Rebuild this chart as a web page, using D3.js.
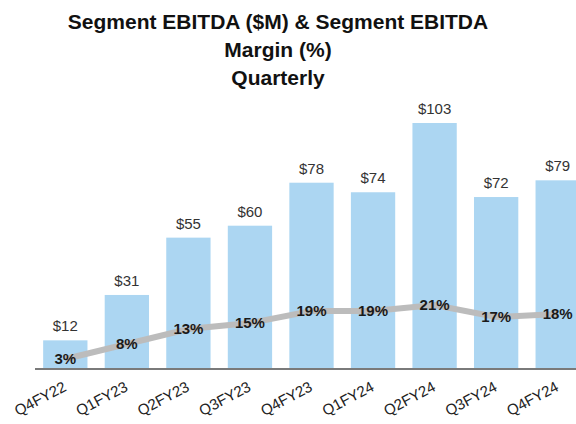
<!DOCTYPE html>
<html>
<head>
<meta charset="utf-8">
<script src="https://cdn.jsdelivr.net/npm/d3@7"></script>
<style>
  body { margin: 0; background: #fff; }
  text { font-family: "Liberation Sans", Arial, sans-serif; }
</style>
</head>
<body>
<svg id="chart" width="576" height="424"></svg>
<script>
// Data
let quarters = ["Q4FY22","Q1FY23","Q2FY23","Q3FY23","Q4FY23","Q1FY24","Q2FY24","Q3FY24","Q4FY24"]
let ebitda = [12, 31, 55, 60, 78, 74, 103, 72, 79]
let margin = [3, 8, 13, 15, 19, 19, 21, 17, 18]
let titleLines = ["Segment EBITDA ($M) & Segment EBITDA", "Margin (%)", "Quarterly"]

let svg = d3.select("#chart")
let baseY = 369

// Scales
let x = d3.scaleBand()
  .domain(quarters)
  .range([37, 586])
  .paddingInner(0.28)
  .paddingOuter(0.1)

let yBar = d3.scaleLinear().domain([0, 103]).range([baseY, 123])
let yLine = d3.scaleLinear().domain([0, 21]).range([baseY - 1, 305])

// Title
svg.append("g").selectAll("text")
  .data(titleLines)
  .join("text")
  .attr("x", 278)
  .attr("y", (d, i) => 29 + i * 28)
  .attr("text-anchor", "middle")
  .attr("font-size", 21)
  .attr("font-weight", "bold")
  .attr("fill", "#111")
  .text(d => d)

// Bars
svg.append("g").selectAll("rect")
  .data(ebitda)
  .join("rect")
  .attr("x", (d, i) => x(quarters[i]))
  .attr("y", d => yBar(d))
  .attr("width", x.bandwidth())
  .attr("height", d => baseY - yBar(d))
  .attr("fill", "#acd6f2")

// Bar labels
svg.append("g").selectAll("text")
  .data(ebitda)
  .join("text")
  .attr("x", (d, i) => x(quarters[i]) + x.bandwidth() / 2)
  .attr("y", d => yBar(d) - 9)
  .attr("text-anchor", "middle")
  .attr("font-size", 15)
  .attr("fill", "#333")
  .text(d => "$" + d)

// Axis line
svg.append("line")
  .attr("x1", 35).attr("x2", 576)
  .attr("y1", baseY).attr("y2", baseY)
  .attr("stroke", "#7a7a7a")
  .attr("stroke-width", 2)

// Margin line
let line = d3.line()
  .x((d, i) => x(quarters[i]) + x.bandwidth() / 2)
  .y(d => yLine(d))

svg.append("path")
  .attr("d", line(margin))
  .attr("fill", "none")
  .attr("stroke", "#bcbcbc")
  .attr("stroke-width", 6)

svg.append("g").selectAll("text")
  .data(margin)
  .join("text")
  .attr("x", (d, i) => x(quarters[i]) + x.bandwidth() / 2)
  .attr("y", d => yLine(d) + 5)
  .attr("text-anchor", "middle")
  .attr("font-size", 15)
  .attr("font-weight", "bold")
  .attr("fill", "#1a1a1a")
  .text(d => d + "%")

// Category labels
svg.append("g").selectAll("text")
  .data(quarters)
  .join("text")
  .attr("transform", d => `translate(${x(d) + x.bandwidth() / 2 + 2},${baseY + 21}) rotate(-28)`)
  .attr("text-anchor", "end")
  .attr("font-size", 15)
  .attr("fill", "#222")
  .text(d => d)
</script>
</body>
</html>
